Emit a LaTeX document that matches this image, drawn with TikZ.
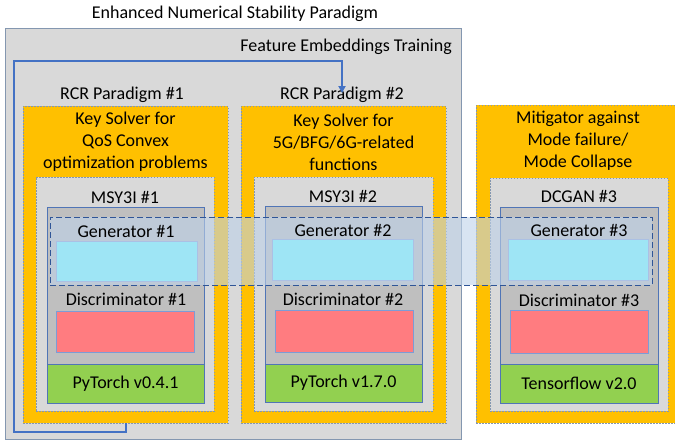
\documentclass[tikz,border=0pt]{standalone}
\usepackage{fontspec}
\setmainfont{Carlito}
\usetikzlibrary{calc,arrows.meta}
\definecolor{cOrange}{HTML}{FFC000}
\definecolor{cLight}{HTML}{D9D9D9}
\definecolor{cMid}{HTML}{BFBFBF}
\definecolor{cCyan}{HTML}{9EE5F5}
\definecolor{cRed}{HTML}{FF7C80}
\definecolor{cGreen}{HTML}{92D050}
\definecolor{cBlue}{HTML}{4472C4}
\definecolor{cBorder}{HTML}{8497B0}
\definecolor{cDark}{HTML}{2F5597}
\definecolor{cBand}{HTML}{BED2E9}
\tikzset{
  rect/.style={anchor=north west, inner sep=0pt, outer sep=0pt},
  outerbox/.style={rect, fill=cLight, draw=cBorder, line width=0.8pt},
  orangebox/.style={rect, fill=cOrange, draw=cBorder, dash pattern=on 1.5pt off 1.5pt, line width=0.6pt},
  graybox/.style={rect, fill=cLight, draw=cBorder, dash pattern=on 1.5pt off 1.5pt, line width=0.6pt},
  midbox/.style={rect, fill=cMid, draw=cBlue!80!gray, line width=0.6pt},
  greenbox/.style={rect, fill=cGreen, draw=cBlue!80!gray, line width=0.6pt},
  cyanbox/.style={rect, fill=cCyan, draw=cBlue!45, line width=0.6pt},
  redbox/.style={rect, fill=cRed, draw=cBlue!70, line width=0.6pt},
  band/.style={rect, fill=cBand, fill opacity=0.6, draw=cDark, dash pattern=on 6pt off 3pt, line width=1pt},
  lbl/.style={inner sep=0pt, font=\fontsize{18}{22}\selectfont, align=center},
  flow/.style={draw=cBlue, line width=2pt, -{Triangle[length=7pt,width=7pt]}},
}
\begin{document}
\begin{tikzpicture}[x=1pt,y=-1pt]
\useasboundingbox (0,0) rectangle (675,442);
% outer
\node[outerbox, minimum width=456, minimum height=411] (outer) at (5,28) {};
\node[lbl] (title) at (235,14) {Enhanced Numerical Stability Paradigm};
\node[lbl, anchor=east] (fet) at (452,47) {Feature Embeddings Training};
% orange boxes
\node[orangebox, minimum width=205, minimum height=317] (o1) at (23,106) {};
\node[orangebox, minimum width=205, minimum height=317] (o2) at (241,106) {};
\node[orangebox, minimum width=200, minimum height=318] (o3) at (476,105) {};
\node[lbl] (lab1) at (122,95) {RCR Paradigm \#1};
\node[lbl] (lab2) at (342,95) {RCR Paradigm \#2};
% feedback arrow
\coordinate (bl) at (14,432);
\coordinate (tl) at (14,61);
\draw[flow] (o1.south) |- (bl) -- (tl) -| ([yshift=-6pt]lab2.north);
% orange texts
\node[lbl] (t1) at (125.5,142) {Key Solver for\\QoS Convex\\optimization problems};
\node[lbl] (t2) at (343.5,142) {Key Solver for\\5G/BFG/6G-related\\functions};
\node[lbl] (t3) at (578,141) {Mitigator against\\Mode failure/\\Mode Collapse};
% gray boxes
\node[graybox, minimum width=178, minimum height=234] (g1) at (36,177) {};
\node[graybox, minimum width=179, minimum height=234] (g2) at (254,177) {};
\node[graybox, minimum width=178, minimum height=233] (g3) at (490,178) {};
\node[lbl] (n1) at (125,197) {MSY3I \#1};
\node[lbl] (n2) at (343,196) {MSY3I \#2};
\node[lbl] (n3) at (579,196) {DCGAN \#3};
% mid gray
\node[midbox, minimum width=157, minimum height=157] (m1) at (47,207) {};
\node[midbox, minimum width=157, minimum height=158] (m2) at (265,206) {};
\node[midbox, minimum width=158, minimum height=157] (m3) at (500,207) {};
% green
\node[greenbox, minimum width=157, minimum height=39] (f1) at (47,364) {};
\node[greenbox, minimum width=157, minimum height=38] (f2) at (265,364) {};
\node[greenbox, minimum width=158, minimum height=39] (f3) at (500,364) {};
\node[lbl] at (f1.center) {PyTorch v0.4.1};
\node[lbl] at (f2.center) {PyTorch v1.7.0};
\node[lbl] at (f3.center) {Tensorflow v2.0};
% band
\node[band, minimum width=602, minimum height=68] (bnd) at (50,217) {};
% cyan and red
\node[cyanbox, minimum width=141, minimum height=40] (c1) at (56,241) {};
\node[cyanbox, minimum width=141, minimum height=41] (c2) at (272,239) {};
\node[cyanbox, minimum width=140, minimum height=41] (c3) at (508,239) {};
\node[redbox, minimum width=138, minimum height=41] (r1) at (56,311) {};
\node[redbox, minimum width=138, minimum height=42] (r2) at (275,310) {};
\node[redbox, minimum width=138, minimum height=43] (r3) at (510,310) {};
\node[lbl] (gl1) at (126,231) {Generator \#1};
\node[lbl] (gl2) at (343,230) {Generator \#2};
\node[lbl] (gl3) at (579,230) {Generator \#3};
\node[lbl] (dl1) at (126,299) {Discriminator \#1};
\node[lbl] (dl2) at (343,299) {Discriminator \#2};
\node[lbl] (dl3) at (579,300) {Discriminator \#3};
\end{tikzpicture}
\end{document}
